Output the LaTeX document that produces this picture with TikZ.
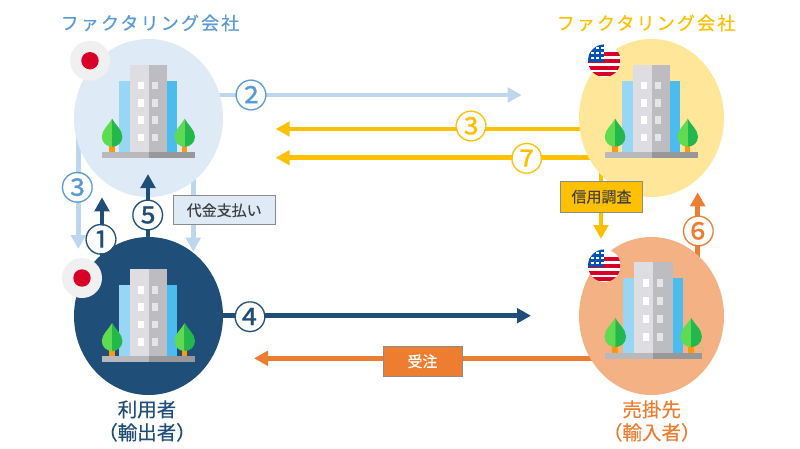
\documentclass[tikz,border=0pt]{standalone}
\usepackage{fontspec}
\newfontfamily\jpfont{Noto Sans CJK JP}
\usetikzlibrary{positioning}
\usetikzlibrary{shapes.geometric}
\usetikzlibrary{arrows.meta}
\usetikzlibrary{calc}
\definecolor{paleblue}{HTML}{DEEBF7}
\definecolor{lineblue}{HTML}{BDD7EE}
\definecolor{midblue}{HTML}{5B9BD5}
\definecolor{navy}{HTML}{1F4E79}
\definecolor{amber}{HTML}{FFC000}
\definecolor{paleamber}{HTML}{FFE699}
\definecolor{rust}{HTML}{ED7D31}
\definecolor{palerust}{HTML}{F4B183}
\definecolor{boxtext}{HTML}{404040}
\definecolor{flagred}{HTML}{D80027}
\definecolor{flagblue}{HTML}{0052B4}
\definecolor{baselight}{HTML}{B9B9BD}
\definecolor{basedark}{HTML}{98989A}
\definecolor{sidelight}{HTML}{97D7F5}
\definecolor{sidedark}{HTML}{4CBBEE}
\definecolor{towerlight}{HTML}{DEDEE2}
\definecolor{towerdark}{HTML}{BDBDC1}
\definecolor{treelight}{HTML}{5FDB52}
\definecolor{treedark}{HTML}{22B84B}
\definecolor{trunk}{HTML}{FF9811}
\pgfdeclarelayer{back}
\pgfsetlayers{back,main}
\tikzstyle{firm}=[ellipse,minimum height=158pt,inner sep=0pt]
\tikzstyle{badge}=[circle,fill=white,inner sep=0pt,minimum size=28pt,font=\jpfont\addfontfeature{FakeBold=0.5}\fontsize{33}{33}\selectfont]
\tikzstyle{flow} = [draw,line width=4.5pt,-{Triangle[length=14pt,width=14.5pt]}]
\tikzstyle{tagbox} = [draw=black!45,line width=0.8pt,inner sep=0pt,font=\jpfont\addfontfeature{FakeBold=0.4}\fontsize{15}{16}\selectfont]
\tikzstyle{title} = [font=\jpfont\addfontfeature{FakeBold=0.5,LetterSpace=12}\fontsize{18}{23}\selectfont,inner sep=0pt]
\tikzstyle{caption} = [font=\jpfont\addfontfeature{FakeBold=0.4}\fontsize{19.5}{23}\selectfont,align=center,inner sep=0pt]
% one building, placed by the middle of its base
\newcommand{\officeblock}[3]{
  \begin{scope}[shift={(#1,#2)},scale=#3]
    \fill[baselight] (-46.3,-5.7) rectangle (0,0);
    \fill[basedark] (0,-5.7) rectangle (46.3,0);
    \fill[sidelight] (-29.2,-77) rectangle (-18.8,-5.7);
    \fill[sidedark] (18.5,-77) rectangle (28.5,-5.7);
    \fill[towerlight] (-18.8,-92.7) rectangle (0,-5.7);
    \fill[towerdark] (0,-92.7) rectangle (18.5,-5.7);
    \foreach \row in {0,1,2,3} {
      \fill[white] (-10.2,-76+17.3*\row) rectangle +(5.7,7.7);
      \fill[black!10] (3.5,-76+17.3*\row) rectangle +(6,7.7);
    }
    \foreach \tx in {-36.4,36.2} {
      \fill[trunk] (\tx-2.7,-12) rectangle (\tx+2.7,-5.7);
      \fill[treelight] (\tx,-39) .. controls (\tx-3,-33) and (\tx-10.3,-28) .. (\tx-10.3,-21) .. controls (\tx-10.3,-15) and (\tx-5.5,-11) .. (\tx,-11) -- cycle;
      \fill[treedark] (\tx,-39) .. controls (\tx+3,-33) and (\tx+10.3,-28) .. (\tx+10.3,-21) .. controls (\tx+10.3,-15) and (\tx+5.5,-11) .. (\tx,-11) -- cycle;
    }
  \end{scope}
}
\newcommand{\japanflag}[2]{
  \fill[black!6] (#1,#2) circle (20);
  \fill[flagred] (#1,#2) circle (8.7);
}
\newcommand{\usaflag}[2]{
  \begin{scope}
    \clip (#1,#2) circle (16.3);
    \fill[white] (#1-17,#2-17) rectangle (#1+17,#2+17);
    \foreach \sy in {-6.5,0.2,7,13.5}
      \fill[flagred] (#1-17,#2+\sy-1.9) rectangle (#1+17,#2+\sy+1.9);
    \fill[flagblue] (#1-17,#2-17) rectangle (#1,#2+1.5);
    \foreach \dx/\dy in {-12/-3,-7/-3,-2/-3,-7/-8,-2/-8,-12/-8,-7/-13,-2/-13}
      \fill[white] (#1+\dx-1.2,#2+\dy-1.2) rectangle +(2.4,2.4);
  \end{scope}
}
% a number that takes no room in its node
\newcommand{\numglyph}[1]{\smash{\makebox[0pt]{\raisebox{-0.38em}{#1}}}}
\begin{document}
\begin{tikzpicture}[x=1pt,y=-1pt]
    \useasboundingbox (0,0) rectangle (800,448);
    % First we draw the four companies
    \foreach \pos/\name/\tint/\across in {{(148.5,118)/jpfactor/paleblue/149pt}, {(148.5,316)/exporter/navy/149pt}, {(651.5,118)/usfactor/paleamber/145pt}, {(651.5,316)/importer/palerust/145pt}}
            \node[firm,fill=\tint,minimum width=\across] (\name) at \pos {};
    \officeblock{148.5}{157.7}{1}
    \officeblock{148.5}{362}{1}
    \officeblock{651.5}{157.7}{1}
    \officeblock{653.3}{358.5}{1.045}
    \japanflag{90}{60.7}
    \japanflag{82}{278}
    \usaflag{604.3}{60.7}
    \usaflag{604.3}{265.7}

    % Texts round the companies
    \node[title,text=midblue] (jptitle) at (150,23) {ファクタリング会社};
    \node[title,text=amber] (ustitle) at (646,23) {ファクタリング会社};
    \node[caption,text=navy] (expname) at (147,421) {利用者\\（輸出者）};
    \node[caption,text=rust] (impname) at (651.7,421) {売掛先\\（輸入者）};

    % Free ends of the connectors
    \foreach \pos/\name in {{(521.7,95)/tipb}, {(275.7,129)/tipc}, {(275.7,157.7)/tipg}, {(531,315.7)/tipd}, {(254,358.3)/tipo},
        {(78.3,249)/tipa}, {(102,197.3)/tipe}, {(148,174)/tipf}, {(193.3,251.7)/tiph}, {(601,239)/tipi}, {(697.7,192.3)/tipk},
        {(78.3,125)/rootc}, {(102,275)/roota}, {(148,240)/rootf}, {(193.3,125)/rooth}, {(601,125)/rooti}, {(697.7,300)/rootk}}
            \path \pos coordinate (\name);

    % Connect companies with arrows, under the companies
    \begin{pgfonlayer}{back}
    \foreach \source/\dest/\tint in {jpfactor.center |- tipb/tipb/lineblue, rootc/tipa/lineblue, rooth/tiph/lineblue,
        usfactor.center |- tipc/tipc/amber, usfactor.center |- tipg/tipg/amber, rooti/tipi/amber,
        roota/tipe/navy, exporter.center |- tipd/tipd/navy,
        importer.center |- tipo/tipo/rust, rootk/tipk/rust}
        \draw[flow,\tint] (\source) -- (\dest);
    \end{pgfonlayer}
    % this one ends on top of the company
    \draw[flow,navy] (rootf) -- (tipf);

    % The numbers on the arrows
    \foreach \pos/\name/\label/\tint in {{(251,95)/numb/②/midblue}, {(77.3,187.3)/numc/③/midblue}, {(471,126)/numcc/③/amber}, {(526.7,158.3)/numg/⑦/amber},
        {(101,239.3)/numa/①/navy}, {(147.7,215)/nume/⑤/navy}, {(250,316.7)/numd/④/navy}, {(698.3,231)/numf/⑥/rust}}
            \node[badge,text=\tint] (\name) at \pos {\numglyph{\label}};

    % The boxes on the arrows
    \node[tagbox,fill=paleblue,text=boxtext,minimum width=101.7pt,minimum height=29pt] (paybox) at (224.2,210.2) {代金支払い};
    \node[tagbox,fill=amber,text=boxtext,minimum width=82.4pt,minimum height=30.7pt] (checkbox) at (601.5,196.7) {信用調査};
    \node[tagbox,fill=rust,text=white,minimum width=79pt,minimum height=30.7pt] (orderbox) at (422.5,361.3) {受注};
\end{tikzpicture}
\end{document}
